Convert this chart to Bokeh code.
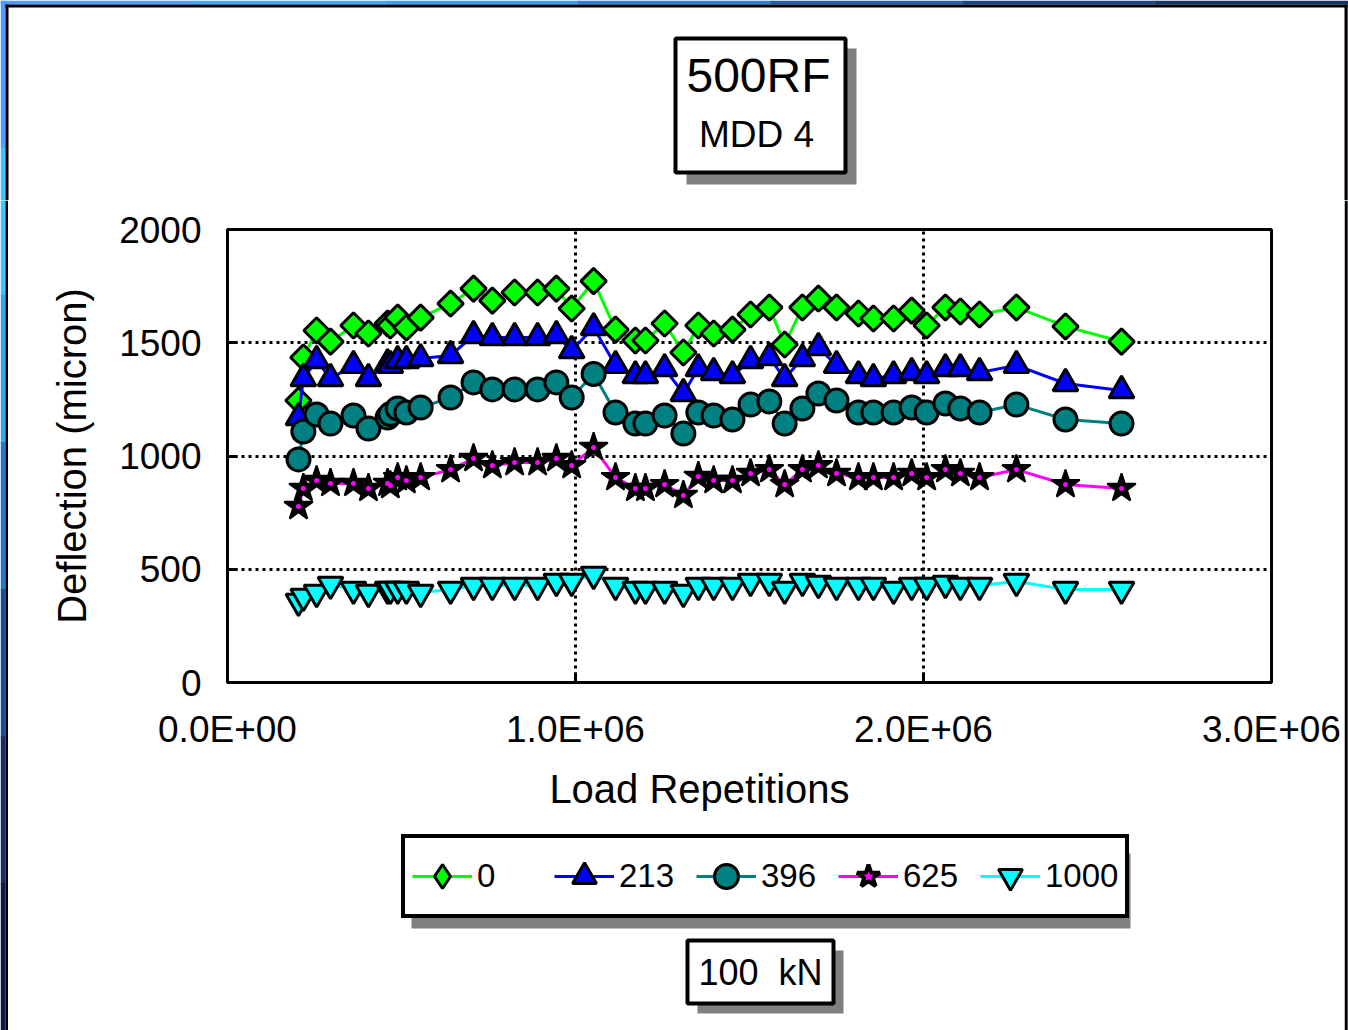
import numpy as np
from bokeh.plotting import figure
from bokeh.layouts import row, column
from bokeh.models import FixedTicker, Legend, LegendItem, Range1d
from bokeh.core.properties import value
from bokeh.embed import file_html
from bokeh.resources import INLINE

# ---------------- data ----------------
load_reps = [204000, 218000, 256000, 296000, 362000, 405000, 460000, 468000, 489000, 514000,
             555000, 641000, 707000, 761000, 825000, 891000, 945000, 989000, 1052000, 1115000,
             1172000, 1201000, 1256000, 1310000, 1353000, 1397000, 1451000, 1503000, 1557000, 1601000,
             1652000, 1698000, 1750000, 1813000, 1856000, 1914000, 1966000, 2009000, 2063000, 2106000,
             2161000, 2267000, 2408000, 2569000]

defl_0 = [1245, 1435, 1554, 1505, 1576, 1541, 1585, 1576, 1611, 1567,
          1611, 1673, 1739, 1686, 1722, 1722, 1739, 1651, 1772, 1558,
          1510, 1510, 1585, 1457, 1576, 1541, 1558, 1625, 1656, 1492,
          1656, 1695, 1656, 1629, 1607, 1607, 1642, 1576, 1656, 1638,
          1625, 1656, 1572, 1505]
defl_213 = [1170, 1342, 1422, 1342, 1400, 1342, 1408, 1400, 1422, 1422,
            1430, 1444, 1532, 1523, 1523, 1523, 1532, 1466, 1567, 1400,
            1355, 1355, 1386, 1276, 1386, 1369, 1355, 1422, 1435, 1342,
            1430, 1479, 1400, 1355, 1342, 1355, 1369, 1355, 1386, 1386,
            1369, 1400, 1320, 1289]
defl_396 = [985, 1108, 1183, 1143, 1179, 1121, 1170, 1185, 1210, 1192,
            1214, 1258, 1325, 1294, 1294, 1294, 1325, 1258, 1362, 1192,
            1143, 1143, 1179, 1099, 1192, 1179, 1161, 1227, 1241, 1143,
            1210, 1276, 1245, 1192, 1192, 1192, 1214, 1192, 1232, 1210,
            1192, 1227, 1161, 1143]
defl_625 = [777, 857, 892, 879, 879, 857, 879, 870, 905, 892,
            905, 940, 989, 958, 971, 971, 989, 958, 1038, 905,
            857, 857, 874, 826, 910, 892, 892, 923, 940, 874,
            940, 958, 923, 905, 905, 905, 923, 905, 940, 923,
            905, 940, 874, 857]
defl_1000 = [358, 380, 397, 433, 411, 397, 411, 411, 411, 411,
             397, 411, 428, 428, 428, 428, 446, 446, 477, 428,
             411, 411, 411, 397, 428, 428, 428, 446, 446, 411,
             446, 437, 428, 428, 428, 411, 428, 428, 437, 428,
             428, 446, 411, 411]

series_names = ["0", "213", "396", "625", "1000"]
x_ticks = [0, 1000000, 2000000, 3000000]
x_tick_labels = ["0.0E+00", "1.0E+06", "2.0E+06", "3.0E+06"]
y_ticks = [0, 500, 1000, 1500, 2000]
title_main = "500RF"
title_sub = "MDD 4"
load_note = "100\u00a0 kN"
x_title = "Load Repetitions"
y_title = "Deflection (micron)"

# ---------------- styles ----------------
FONT = "Liberation Sans"
W, H = 1348, 1030
LX, RX = 8, 1344          # chart/bottom column spans x 8..1344
TOP_H = 200               # title strip height (full width)
CH_Y0, CH_Y1 = 200, 830   # chart figure vertical span
FL, FR, FT, FB = 227, 1271, 229, 682  # plot frame in page pixels

series_style = [
    dict(line="#00ff00", marker="square", angle=np.pi / 4, size=18, fill="#00ff00", lw=3, lmarker="diamond"),
    dict(line="#0000ff", marker="triangle", angle=0.0, size=25, fill="#0000ff", lw=3, lmarker="triangle"),
    dict(line="#008080", marker="circle", angle=0.0, size=23, fill="#008080", lw=3, lmarker="circle"),
    dict(line="#ff00ff", marker="star", angle=0.0, size=30, fill="black", lw=2, lmarker="star"),
    dict(line="#00ffff", marker="inverted_triangle", angle=0.0, size=25, fill="#00ffff", lw=3,
         lmarker="inverted_triangle"),
]
series_data = [defl_0, defl_213, defl_396, defl_625, defl_1000]

left_cols = ["#4f9eff", "#3ac6ff", "#30a8ea", "#2478c0", "#1a4e92", "#132f66", "#0e1a45"]
top_cols = ["#4f9eff", "#45a8ff", "#3c9cf0", "#2f7ed0", "#2460a8", "#1b4685", "#153468"]


def deco_fig(w, h, x0, x1, y0, y1):
    f = figure(width=w, height=h, output_backend="svg", toolbar_location=None,
               x_range=Range1d(x0, x1), y_range=Range1d(y1, y0),
               x_axis_location=None, y_axis_location=None,
               min_border=0, min_border_left=0, min_border_right=0,
               min_border_top=0, min_border_bottom=0,
               background_fill_color="white", border_fill_color="white",
               outline_line_color=None)
    f.grid.visible = False
    return f


def left_gradient(f):
    n = len(left_cols)
    f.quad(left=[0] * n, right=[5] * n,
           top=[i * H / n for i in range(n)], bottom=[(i + 1) * H / n + 1 for i in range(n)],
           fill_color=left_cols, line_color=None)


# ---------------- top (full width: page edge + title box) ----------------
pt = deco_fig(W, TOP_H, 0, W, 0, TOP_H)
n = len(top_cols)
seg = W / n
pt.quad(left=[i * seg for i in range(n)], right=[(i + 1) * seg + 1 for i in range(n)],
        top=[0] * n, bottom=[4] * n, fill_color=top_cols, line_color=None)
left_gradient(pt)
pt.quad(left=[5], right=[1347], top=[4], bottom=[7], fill_color="black", line_color=None)
pt.quad(left=[5], right=[8], top=[4], bottom=[TOP_H], fill_color="black", line_color=None)
pt.quad(left=[1344], right=[1347], top=[4], bottom=[TOP_H], fill_color="black", line_color=None)
pt.quad(left=[1347], right=[W], top=[4], bottom=[TOP_H], fill_color="#142a5c", line_color=None)
pt.quad(left=[686], right=[856], top=[48], bottom=[184], fill_color="#808080", line_color=None)
pt.quad(left=[675], right=[845], top=[38], bottom=[172], fill_color="white",
        line_color="black", line_width=4)
pt.text(x=[758], y=[75], text=[title_main], text_font=value(FONT), text_font_size="48px",
        text_align="center", text_baseline="middle", text_color="black")
pt.text(x=[756], y=[134], text=[title_sub], text_font=value(FONT), text_font_size="37px",
        text_align="center", text_baseline="middle", text_color="black")

# ---------------- left / right page edges ----------------
pl = deco_fig(LX, H - TOP_H, 0, LX, TOP_H, H)
left_gradient(pl)
pl.quad(left=[5], right=[LX], top=[TOP_H], bottom=[H], fill_color="black", line_color=None)

pr = deco_fig(W - RX, H - TOP_H, RX, W, TOP_H, H)
pr.quad(left=[RX], right=[RX + 3], top=[TOP_H], bottom=[H], fill_color="black", line_color=None)
pr.quad(left=[RX + 3], right=[W], top=[TOP_H], bottom=[H], fill_color="#142a5c", line_color=None)

# ---------------- chart ----------------
pc = figure(width=RX - LX, height=CH_Y1 - CH_Y0, output_backend="svg", toolbar_location=None,
            x_range=Range1d(0, 3000000), y_range=Range1d(0, 2000),
            min_border_left=FL - LX, min_border_right=RX - FR,
            min_border_top=FT - CH_Y0, min_border_bottom=CH_Y1 - FB,
            background_fill_color="white", border_fill_color="white")

for ax in [pc.xaxis[0], pc.yaxis[0]]:
    ax.axis_line_width = 3
    ax.axis_line_color = "black"
    ax.major_tick_in = 10
    ax.major_tick_out = 0
    ax.major_tick_line_width = 3
    ax.minor_tick_line_color = None
    ax.major_label_text_font = FONT
    ax.major_label_text_font_size = "37px"
    ax.major_label_text_color = "black"
    ax.axis_label_text_font = FONT
    ax.axis_label_text_font_size = "40px"
    ax.axis_label_text_font_style = "normal"
    ax.axis_label_text_color = "black"

pc.xaxis.ticker = FixedTicker(ticks=x_ticks)
pc.xaxis.major_label_overrides = {t: lab for t, lab in zip(x_ticks, x_tick_labels)}
pc.xaxis.axis_label = x_title + "\u00a0" * 9
pc.xaxis.major_label_standoff = 26
pc.xaxis.axis_label_standoff = 14

pc.yaxis.ticker = FixedTicker(ticks=y_ticks)
pc.yaxis.axis_label = y_title
pc.yaxis.major_label_standoff = 26
pc.yaxis.axis_label_standoff = 22

pc.xgrid.ticker = FixedTicker(ticks=x_ticks)
pc.ygrid.ticker = FixedTicker(ticks=y_ticks)
for g in [pc.xgrid[0], pc.ygrid[0]]:
    g.grid_line_color = "black"
    g.grid_line_width = 3
    g.grid_line_dash = "3 4"
    g.grid_line_alpha = 1.0

pc.outline_line_color = "black"
pc.outline_line_width = 3
pc.outline_line_alpha = 1.0

for ys, st in zip(series_data, series_style):
    pc.line(load_reps, ys, line_color=st["line"], line_width=3)
    pc.scatter(load_reps, ys, marker=st["marker"], angle=st["angle"], size=st["size"],
               fill_color=st["fill"], line_color="black", line_width=st["lw"])
    if st["marker"] == "star":
        pc.scatter(load_reps, ys, marker="circle", size=5, fill_color=st["line"], line_color=None)

# ---------------- bottom (legend + note) ----------------
# its frame is aligned with the chart frame (x 227..1271), so x data == page pixels
pb = deco_fig(RX - LX, H - CH_Y1, FL, FR, CH_Y1, H)
pb.extra_x_ranges = {"hx": Range1d(0, 3000000)}
pb.extra_y_ranges = {"hy": Range1d(50000, 60000)}   # keeps legend proxies out of view

pb.quad(left=[411], right=[1130], top=[853], bottom=[928], fill_color="#808080", line_color=None)
pb.quad(left=[697], right=[843], top=[950], bottom=[1013], fill_color="#808080", line_color=None)
pb.quad(left=[687], right=[833], top=[940], bottom=[1003], fill_color="white",
        line_color="black", line_width=4)
pb.text(x=[760], y=[972], text=[load_note], text_font=value(FONT), text_font_size="36px",
        text_align="center", text_baseline="middle", text_color="black")

items = []
for name, ys, st in zip(series_names, series_data, series_style):
    lr = pb.line(load_reps, ys, line_color=st["line"], line_width=3,
                 x_range_name="hx", y_range_name="hy")
    if st["marker"] == "star":
        sr = pb.scatter(load_reps, ys, marker="star", size=st["size"], fill_color="#ff00ff",
                        line_color="black", line_width=4, x_range_name="hx", y_range_name="hy")
    else:
        sr = pb.scatter(load_reps, ys, marker=st["lmarker"], size=st["size"],
                        fill_color=st["fill"], line_color="black", line_width=st["lw"],
                        x_range_name="hx", y_range_name="hy")
    items.append(LegendItem(label=name, renderers=[lr, sr]))

legend = Legend(items=items, orientation="horizontal", location=(401 - FL, H - 918),
                margin=0, padding=7, spacing=5,
                glyph_width=60, glyph_height=62, label_standoff=5, label_width=72,
                label_text_font=FONT, label_text_font_size="33px", label_text_color="black",
                border_line_color="black", border_line_width=4, border_line_alpha=1.0,
                background_fill_color="white", background_fill_alpha=1.0)
pb.add_layout(legend, "center")

layout = column(pt, row(pl, column(pc, pb, spacing=0), pr, spacing=0), spacing=0)
open("out.html", "w").write(file_html(layout, INLINE))
